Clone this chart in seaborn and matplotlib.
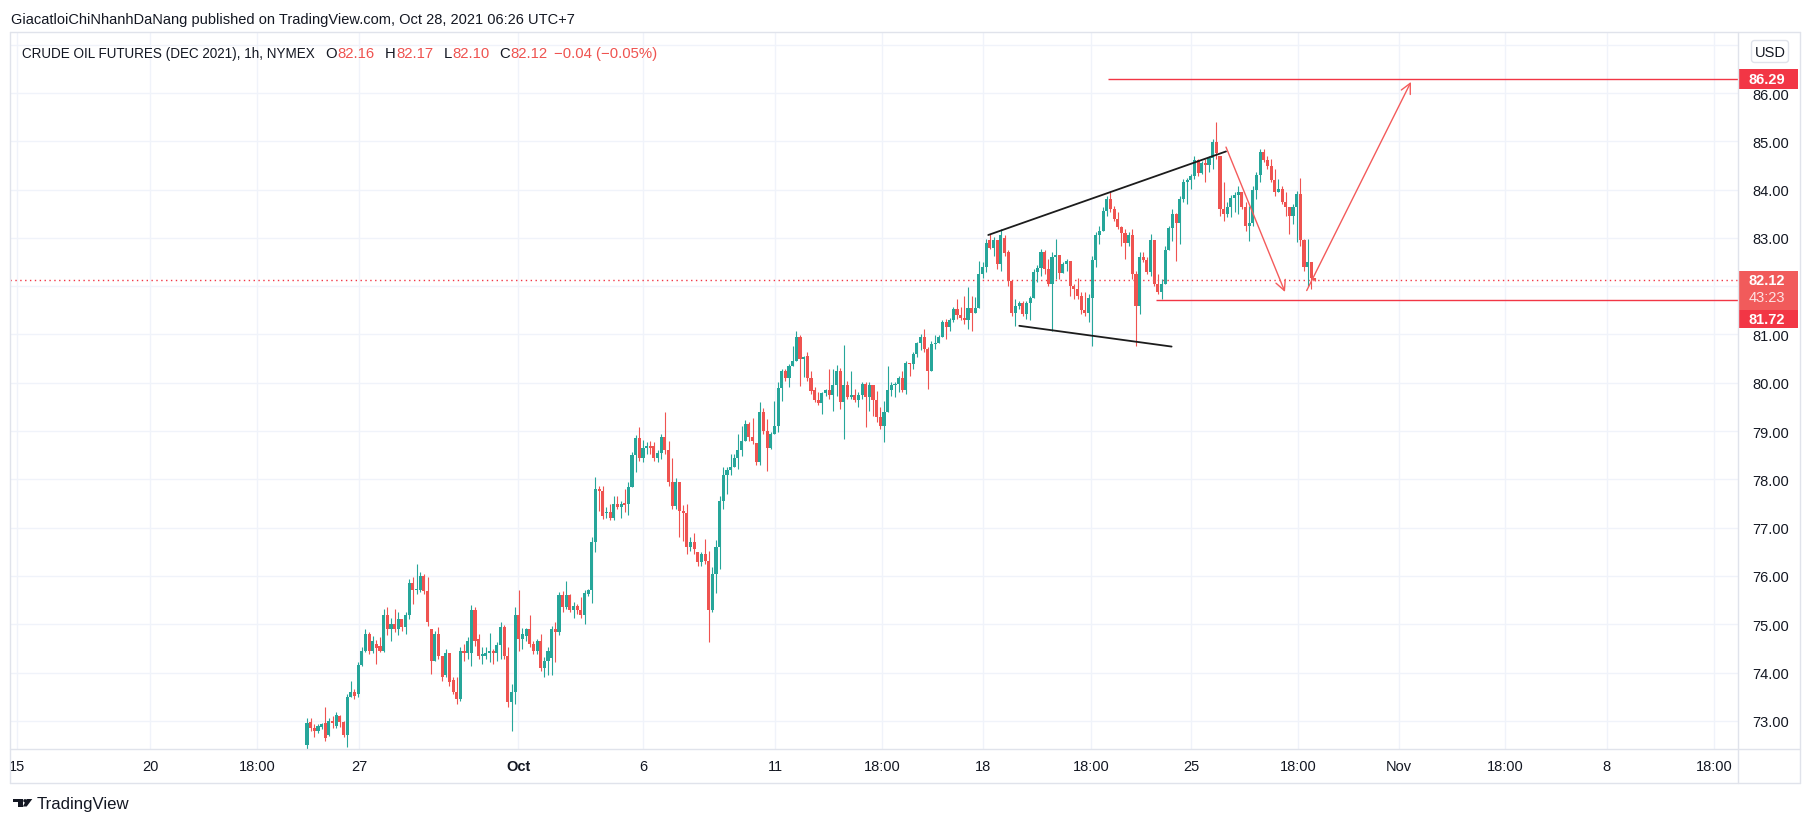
# Import required libraries
import matplotlib
matplotlib.use("Agg")
import matplotlib.pyplot as plt
import numpy as np
import seaborn as sns
from matplotlib.patches import Rectangle, FancyBboxPatch, Polygon, Circle

# -------------------- Data --------------------
# CL Dec 2021, one candle per two trading hours, Sep 24 -> Oct 28
opens = [
    72.50, 72.98, 72.85, 72.80, 72.88, 72.95, 72.70, 73.00, 72.90, 73.10,
    72.98, 72.70, 73.50, 73.60, 73.55, 74.15, 74.45, 74.80, 74.45, 74.60,
    74.55, 74.45, 75.20, 74.90, 75.00, 74.90, 75.10, 74.95, 75.20, 75.85,
    75.70, 75.72, 76.00, 75.68, 74.90, 74.25, 74.80, 74.35, 73.95, 74.40,
    73.85, 73.60, 73.45, 74.45, 74.40, 74.40, 75.30, 74.70, 74.35, 74.35,
    74.40, 74.45, 74.40, 74.58, 74.95, 74.35, 73.40, 73.60, 75.20, 74.70,
    74.75, 74.90, 74.60, 74.45, 74.65, 74.10, 74.25, 74.30, 74.90, 74.85,
    75.60, 75.35, 75.60, 75.30, 75.38, 75.30, 75.20, 75.62, 75.70, 76.70,
    77.80, 77.75, 77.30, 77.33, 77.20, 77.50, 77.42, 77.50, 77.50, 77.85,
    78.50, 78.85, 78.45, 78.65, 78.70, 78.70, 78.45, 78.55, 78.88, 78.60,
    77.95, 77.45, 77.95, 77.35, 77.30, 76.60, 76.70, 76.50, 76.28, 76.45,
    76.32, 75.30, 76.05, 76.60, 77.55, 78.10, 78.20, 78.25, 78.45, 78.60,
    78.80, 79.15, 78.88, 78.75, 78.35, 79.40, 79.00, 78.65, 78.93, 79.10,
    79.90, 80.25, 80.10, 80.35, 80.45, 80.95, 80.50, 80.55, 80.10, 79.85,
    79.65, 79.58, 79.78, 79.85, 79.75, 79.95, 80.25, 79.60, 79.95, 79.70,
    79.75, 79.65, 79.75, 79.98, 79.70, 79.95, 79.65, 79.30, 79.10, 79.40,
    79.85, 79.95, 79.98, 80.10, 79.85, 80.40, 80.38, 80.60, 80.82, 80.95,
    80.70, 80.25, 80.80, 80.82, 80.95, 81.25, 81.15, 81.30, 81.52, 81.40,
    81.35, 81.30, 81.55, 81.45, 81.55, 82.25, 82.40, 82.95, 82.80, 82.95,
    82.45, 83.00, 82.70, 82.10, 81.45, 81.60, 81.65, 81.42, 81.65, 81.75,
    82.30, 82.38, 82.70, 82.35, 82.05, 82.60, 82.65, 82.28, 82.45, 82.52,
    82.00, 81.95, 81.80, 81.50, 81.45, 81.75, 82.55, 83.05, 83.15, 83.55,
    83.80, 83.60, 83.40, 83.22, 83.10, 82.90, 83.05, 82.25, 81.60, 82.60,
    82.55, 82.30, 82.95, 82.05, 81.88, 82.05, 82.75, 83.20, 83.50, 83.30,
    83.80, 84.15, 84.20, 84.28, 84.62, 84.35, 84.55, 84.50, 84.65, 84.98,
    84.70, 83.60, 83.50, 83.65, 83.82, 83.88, 83.95, 83.65, 83.25, 83.30,
    84.00, 84.30, 84.78, 84.62, 84.48, 84.20, 83.95, 84.02, 83.75, 83.65,
    83.45, 83.65, 83.90, 82.95, 82.40, 82.50, 82.16,
]
highs = [
    73.07, 73.07, 72.94, 72.94, 72.95, 73.28, 73.07, 73.11, 73.18, 73.12,
    73.00, 73.56, 73.83, 73.66, 74.21, 74.52, 74.90, 74.85, 74.75, 74.68,
    74.73, 75.32, 75.35, 75.14, 75.32, 75.25, 75.11, 75.25, 75.94, 75.97,
    76.25, 76.08, 76.05, 75.97, 74.90, 74.87, 74.94, 74.35, 74.49, 74.40,
    73.90, 73.90, 74.52, 74.59, 74.73, 75.39, 75.35, 74.80, 74.52, 74.52,
    74.83, 74.49, 74.63, 75.04, 74.98, 74.52, 73.76, 75.35, 75.71, 74.92,
    74.92, 75.19, 74.66, 74.70, 74.80, 74.32, 74.52, 74.97, 75.04, 75.66,
    75.68, 75.90, 75.62, 75.46, 75.42, 75.56, 75.70, 75.73, 76.80, 78.04,
    77.87, 77.87, 77.42, 77.49, 77.66, 77.66, 77.56, 77.80, 77.94, 78.56,
    78.91, 79.08, 78.82, 78.78, 78.80, 78.77, 78.60, 78.94, 79.39, 78.80,
    78.45, 78.02, 77.95, 77.46, 77.49, 76.80, 76.88, 76.50, 76.49, 76.77,
    76.52, 76.18, 76.75, 77.66, 78.25, 78.25, 78.53, 78.53, 78.94, 79.11,
    79.22, 79.18, 79.27, 78.75, 79.60, 79.47, 79.25, 78.98, 79.63, 80.01,
    80.29, 80.29, 80.39, 80.77, 81.08, 80.98, 80.56, 80.63, 80.25, 79.91,
    79.80, 79.80, 79.87, 80.29, 80.29, 80.36, 80.30, 80.78, 80.04, 80.25,
    79.87, 79.80, 80.01, 80.01, 80.01, 79.95, 79.84, 79.49, 79.63, 80.35,
    80.01, 80.01, 80.15, 80.25, 80.46, 80.42, 80.63, 80.85, 81.01, 81.11,
    80.74, 80.87, 80.98, 80.98, 81.29, 81.32, 81.34, 81.56, 81.73, 81.56,
    81.80, 81.98, 81.80, 81.77, 82.53, 82.50, 82.98, 83.08, 83.01, 82.95,
    83.18, 83.05, 82.74, 82.10, 81.74, 81.70, 81.70, 81.70, 81.80, 82.36,
    82.43, 82.77, 82.74, 82.56, 82.70, 82.98, 82.65, 82.50, 82.56, 82.52,
    82.05, 82.18, 81.87, 81.87, 81.84, 82.63, 83.12, 83.25, 83.63, 83.87,
    83.98, 83.67, 83.53, 83.25, 83.19, 83.12, 83.19, 82.32, 82.70, 82.70,
    82.60, 83.08, 82.95, 82.25, 82.15, 82.84, 83.25, 83.60, 83.52, 83.87,
    84.22, 84.25, 84.32, 84.70, 84.63, 84.60, 84.63, 84.70, 85.05, 85.39,
    84.70, 84.15, 83.74, 83.88, 83.94, 84.08, 83.95, 83.74, 83.67, 84.08,
    84.36, 84.84, 84.85, 84.70, 84.63, 84.43, 84.22, 84.08, 83.94, 83.65,
    83.70, 83.98, 84.25, 82.98, 82.98, 82.50, 82.17,
]
lows = [
    72.42, 72.80, 72.66, 72.75, 72.83, 72.59, 72.68, 72.85, 72.85, 72.88,
    72.66, 72.45, 73.49, 73.45, 73.50, 74.14, 74.42, 74.39, 74.40, 74.18,
    74.42, 74.42, 74.77, 74.66, 74.85, 74.77, 74.87, 74.80, 75.11, 75.42,
    75.63, 75.66, 75.63, 74.97, 73.97, 74.25, 74.28, 73.83, 73.90, 73.73,
    73.56, 73.35, 73.42, 74.25, 74.28, 74.14, 74.56, 74.28, 74.18, 74.28,
    74.21, 74.18, 74.25, 74.28, 74.28, 73.28, 72.80, 73.35, 74.45, 74.49,
    74.66, 74.52, 74.39, 74.39, 74.04, 73.90, 73.94, 73.94, 74.21, 74.77,
    75.25, 75.32, 75.25, 75.14, 75.21, 75.14, 75.00, 75.59, 75.45, 76.49,
    77.35, 77.18, 77.21, 77.15, 77.15, 77.39, 77.21, 77.32, 77.26, 77.84,
    78.15, 78.39, 78.36, 78.53, 78.53, 78.39, 78.36, 78.42, 78.53, 77.87,
    77.39, 77.39, 76.80, 76.73, 76.46, 76.52, 76.46, 76.21, 76.21, 76.25,
    74.63, 75.26, 75.65, 76.14, 77.39, 77.70, 78.09, 78.25, 78.22, 78.48,
    78.80, 78.80, 78.73, 78.29, 78.29, 78.94, 78.18, 78.63, 78.93, 78.98,
    79.63, 80.04, 79.91, 80.35, 80.45, 79.94, 80.11, 80.04, 79.77, 79.60,
    79.53, 79.35, 79.73, 79.67, 79.42, 79.73, 79.46, 78.84, 79.66, 79.66,
    79.60, 79.50, 79.66, 79.08, 79.42, 79.32, 79.18, 79.04, 78.77, 79.40,
    79.73, 79.70, 79.80, 79.80, 79.77, 80.15, 80.28, 80.53, 80.67, 80.63,
    79.87, 80.25, 80.70, 80.82, 80.95, 80.91, 81.08, 81.25, 81.32, 81.29,
    81.22, 81.11, 81.08, 81.45, 81.55, 82.18, 82.29, 82.77, 82.63, 82.36,
    82.32, 82.63, 82.01, 81.39, 81.18, 81.53, 81.39, 81.32, 81.29, 81.75,
    82.08, 82.22, 82.25, 82.01, 81.08, 82.15, 82.15, 82.28, 82.32, 81.80,
    81.74, 81.74, 81.42, 81.39, 81.25, 80.77, 82.39, 82.87, 83.15, 83.46,
    83.53, 83.36, 83.19, 82.84, 82.56, 82.84, 82.15, 80.77, 81.43, 82.50,
    82.25, 82.22, 82.01, 81.84, 81.74, 82.05, 82.74, 82.94, 82.53, 82.87,
    83.74, 83.70, 84.01, 84.22, 84.29, 84.32, 84.15, 84.36, 84.43, 84.63,
    83.46, 83.36, 83.43, 83.43, 83.53, 83.50, 83.60, 83.15, 82.94, 83.25,
    83.81, 84.15, 84.57, 84.43, 84.15, 83.87, 83.95, 83.70, 83.46, 83.08,
    83.29, 82.91, 82.84, 82.32, 82.01, 81.94, 82.10,
]
closes = [
    72.95, 72.85, 72.80, 72.90, 72.93, 72.65, 73.00, 72.95, 73.12, 72.98,
    72.70, 73.50, 73.60, 73.52, 74.15, 74.45, 74.80, 74.45, 74.65, 74.50,
    74.45, 75.20, 74.90, 75.00, 74.90, 75.10, 74.95, 75.20, 75.85, 75.70,
    75.72, 76.00, 75.68, 75.05, 74.25, 74.80, 74.35, 73.90, 74.40, 73.80,
    73.60, 73.45, 74.45, 74.40, 74.65, 75.30, 74.65, 74.35, 74.38, 74.40,
    74.45, 74.40, 74.58, 74.95, 74.35, 73.40, 73.60, 75.20, 74.70, 74.80,
    74.90, 74.60, 74.45, 74.65, 74.10, 74.25, 74.45, 74.90, 74.85, 75.60,
    75.35, 75.60, 75.30, 75.38, 75.30, 75.20, 75.65, 75.70, 76.70, 77.80,
    77.75, 77.25, 77.33, 77.20, 77.50, 77.42, 77.50, 77.48, 77.85, 78.50,
    78.85, 78.45, 78.65, 78.70, 78.66, 78.45, 78.55, 78.88, 78.60, 77.95,
    77.45, 77.95, 77.35, 77.30, 76.60, 76.70, 76.55, 76.28, 76.45, 76.32,
    75.30, 76.05, 76.60, 77.55, 78.10, 78.20, 78.25, 78.45, 78.60, 78.80,
    79.15, 78.88, 78.80, 78.35, 79.40, 79.00, 78.65, 78.93, 79.10, 79.90,
    80.25, 80.10, 80.35, 80.45, 80.95, 80.50, 80.52, 80.10, 79.82, 79.65,
    79.58, 79.78, 79.85, 79.75, 79.95, 80.25, 79.60, 79.95, 79.70, 79.75,
    79.65, 79.75, 79.98, 79.70, 79.95, 79.65, 79.30, 79.10, 79.40, 79.85,
    79.95, 79.98, 80.10, 79.85, 80.40, 80.38, 80.60, 80.82, 80.95, 80.70,
    80.25, 80.80, 80.82, 80.95, 81.25, 81.15, 81.30, 81.52, 81.40, 81.35,
    81.30, 81.55, 81.45, 81.55, 82.25, 82.40, 82.90, 82.80, 82.95, 82.45,
    83.05, 82.68, 82.10, 81.45, 81.60, 81.65, 81.42, 81.65, 81.75, 82.30,
    82.38, 82.70, 82.35, 82.05, 82.60, 82.65, 82.28, 82.45, 82.52, 82.00,
    81.95, 81.80, 81.50, 81.45, 81.75, 82.55, 83.05, 83.15, 83.55, 83.80,
    83.60, 83.40, 83.22, 83.10, 82.90, 83.05, 82.25, 81.60, 82.60, 82.55,
    82.30, 82.95, 82.05, 81.88, 82.05, 82.75, 83.20, 83.50, 83.30, 83.80,
    84.15, 84.20, 84.28, 84.62, 84.35, 84.55, 84.50, 84.65, 84.98, 84.75,
    83.60, 83.50, 83.65, 83.82, 83.88, 83.95, 83.65, 83.25, 83.30, 84.00,
    84.30, 84.78, 84.62, 84.48, 84.20, 83.95, 84.02, 83.75, 83.65, 83.45,
    83.65, 83.90, 82.95, 82.40, 82.50, 82.16, 82.12,
]

time_labels = ["15", "20", "18:00", "27", "Oct", "6", "11", "18:00", "18",
               "18:00", "25", "18:00", "Nov", "18:00", "8", "18:00"]
price_ticks = list(range(73, 88))

# drawings on the chart, as (trading hour, price)
wedge_top = [(373.1, 83.06), (503.3, 84.79)]
wedge_bottom = [(390.1, 81.18), (473.5, 80.75)]
arrow_down = [(503.3, 84.88), (535.6, 81.88)]
arrow_up = [(547.5, 81.91), (604.6, 86.23)]
target_level = (438.5, 86.29)
support_level = (465.0, 81.72)
countdown = "43:23"

# -------------------- Layout --------------------
W, H = 1813, 829
time_pos = [-158.8, -86.0, -27.4, 28.5, 115.6, 184.0, 256.3, 314.9, 370.2,
            429.4, 484.1, 542.7, 598.0, 656.1, 711.9, 770.5]
GREEN, RED = "#26a69a", "#ef5350"
LINE_RED = "#f23645"
TEXT = "#131722"
GRID = "#f0f3fa"
BORDER = "#e0e3eb"

sns.set_theme(style="white")
plt.rcParams["font.family"] = ["Liberation Sans", "DejaVu Sans"]

fig = plt.figure(figsize=(W / 100, H / 100), dpi=100)
fig.patch.set_facecolor("white")
ax = fig.add_axes([10 / W, 79 / H, 1728 / W, 717 / H])
ax.set_xlim(-162.65, 783.7)
ax.set_ylim(72.418, 87.263)


def ypix(price):
    return H - ax.transData.transform((0, price))[1]


# candles
o, h, l, c = (np.array(v) for v in (opens, highs, lows, closes))
x = np.arange(len(o)) * 2
cols = np.where(c >= o, GREEN, RED)
ax.vlines(x, l, h, colors=cols, lw=0.8, zorder=3)
ax.bar(x, np.maximum(np.abs(c - o), 0.03), bottom=np.minimum(o, c),
       width=1.7, color=cols, lw=0, zorder=3)

# price tag extents on the right axis (pixels from the top)
yt = ypix(target_level[1])
yl = ypix(closes[-1])
covered = [(yl - 9.5, yl + 47.5), (41.5, 63.5)]

# axes, ticks, grid
ax.set_xticks(time_pos)
ax.set_xticklabels(time_labels)
ax.set_yticks(price_ticks)
ax.set_yticklabels(["" if any(a <= ypix(p) <= b for a, b in covered) else f"{p:.2f}"
                    for p in price_ticks])
ax.yaxis.tick_right()
ax.tick_params(axis="y", length=0, pad=10, labelsize=10.5, labelcolor=TEXT)
ax.tick_params(axis="x", length=0, pad=7, labelsize=10.5, labelcolor=TEXT)
ax.grid(True, color=GRID, lw=1)
ax.set_axisbelow(True)
for s in ax.spines.values():
    s.set_visible(False)
for t in ax.get_xticklabels():
    if t.get_text() == "Oct":
        t.set_fontweight("bold")

# drawings
xmax = ax.get_xlim()[1]
ax.axhline(closes[-1], color=LINE_RED, lw=1, ls=(0, (1, 2.5)), zorder=2)
ax.hlines(target_level[1], target_level[0], xmax, color=LINE_RED, lw=1, zorder=4)
ax.hlines(support_level[1], support_level[0], xmax, color=LINE_RED, lw=1, zorder=4)
for seg in (wedge_top, wedge_bottom):
    sns.lineplot(x=[p[0] for p in seg], y=[p[1] for p in seg], ax=ax,
                 color="#1c1c1c", lw=1.3, zorder=4)
for start, end in (arrow_down, arrow_up):
    ax.annotate("", xy=end, xytext=start, zorder=4,
                arrowprops=dict(arrowstyle="->,head_length=0.6,head_width=0.3",
                                color="#f45b5b", lw=1, shrinkA=0, shrinkB=0))
ax.set_xlabel("")
ax.set_ylabel("")

# -------------------- Frame, labels, header --------------------
deco = fig.add_axes([0, 0, 1, 1], zorder=5)
deco.set_xlim(0, W)
deco.set_ylim(H, 0)
deco.axis("off")
deco.patch.set_alpha(0)

for xs, ys in [((10, 1800), (33, 33)), ((10, 1800), (750, 750)),
               ((10, 1800), (784, 784)), ((10, 10), (33, 784)),
               ((1738, 1738), (33, 784)), ((1800, 1800), (33, 784))]:
    deco.plot(xs, ys, color=BORDER, lw=1)


def fit_width(t, target):
    r = fig.canvas.get_renderer()
    w = t.get_window_extent(r).width
    t.set_fontsize(t.get_fontsize() * target / w)


deco.add_patch(Rectangle((1738, yt - 10), 60, 20, fc=LINE_RED, ec="none"))
deco.text(1767, yt, f"{target_level[1]:.2f}", color="white", ha="center",
          va="center", fontsize=10.5, fontweight="bold")

deco.add_patch(Rectangle((1738, yl - 9.5), 60, 39, fc="#f15b5b", ec="none"))
deco.text(1767, yl, f"{closes[-1]:.2f}", color="white", ha="center",
          va="center", fontsize=10.5, fontweight="bold")
deco.text(1767, yl + 17, countdown, color="#fde2e2", ha="center",
          va="center", fontsize=10.5)
deco.add_patch(Rectangle((1738, yl + 29.5), 60, 18, fc=LINE_RED, ec="none"))
deco.text(1767, yl + 38.5, f"{support_level[1]:.2f}", color="white",
          ha="center", va="center", fontsize=10.5, fontweight="bold")

deco.add_patch(FancyBboxPatch((1751.5, 41.5), 37, 22,
                              boxstyle="round,pad=0,rounding_size=3",
                              fc="white", ec=BORDER, lw=1))
deco.text(1770, 52.5, "USD", color=TEXT, ha="center", va="center", fontsize=10.5)

# header
head = deco.text(11, 19.5, "GiacatloiChiNhanhDaNang published on TradingView.com, "
                 "Oct 28, 2021 06:26 UTC+7", color=TEXT, fontsize=10.5,
                 va="center", ha="left")
fit_width(head, 568)

chg = closes[-1] - closes[-2]
pct = chg / closes[-2] * 100
chg_text = f"{chg:+.2f} ({pct:+.2f}%)".replace("-", "\u2212")
pieces = [("O", TEXT, 10), (f"{opens[-1]:.2f}", RED, 1),
          ("H", TEXT, 10), (f"{highs[-1]:.2f}", RED, 1),
          ("L", TEXT, 10), (f"{lows[-1]:.2f}", RED, 1),
          ("C", TEXT, 9), (f"{closes[-1]:.2f}", RED, 1),
          (chg_text, RED, 6)]
prev = deco.text(22, 53.5, "CRUDE OIL FUTURES (DEC 2021), 1h, NYMEX", color=TEXT,
                 fontsize=10, va="center", ha="left")
fit_width(prev, 295)
fs = prev.get_fontsize() * 1.1
for s, col, gap in pieces:
    prev = deco.annotate(s, xy=(1, 0.5), xycoords=prev, xytext=(gap, 0),
                         textcoords="offset pixels", va="center", ha="left",
                         color=col, fontsize=fs)

# footer logo
deco.add_patch(Polygon([(13.3, 800), (22.7, 800), (22.7, 807.5), (18.3, 807.5),
                        (18.3, 803.3), (13.3, 803.3)], closed=True, fc=TEXT, ec="none"))
deco.add_patch(Circle((25, 801.8), 1.7, fc=TEXT, ec="none"))
deco.add_patch(Polygon([(26.7, 800), (32.3, 800), (26.7, 807.5), (22.9, 807.5)],
                       closed=True, fc=TEXT, ec="none"))
foot = deco.text(37, 804.5, "TradingView", color=TEXT, fontsize=11,
                 va="center", ha="left")
fit_width(foot, 92)

fig.savefig("out.png", dpi=100, facecolor="white")
